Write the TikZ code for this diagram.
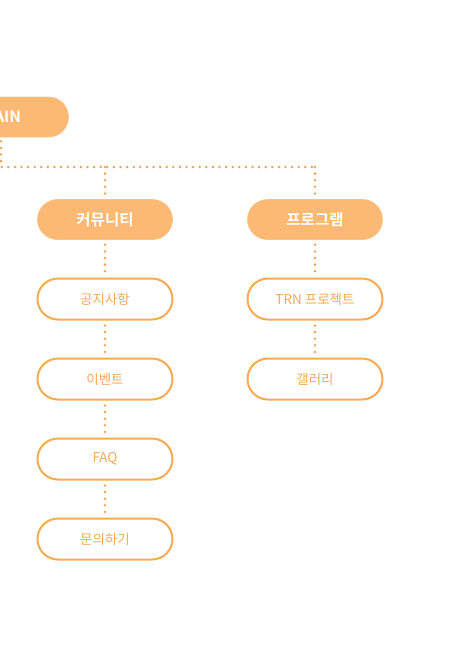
\documentclass[tikz,border=0pt]{standalone}
\usepackage{fontspec}
\setmainfont{Noto Sans CJK KR}
\newfontfamily\krbold{Noto Sans CJK KR Bold}
\definecolor{fillor}{HTML}{FCB974}
\definecolor{lineor}{HTML}{F6AA55}
\definecolor{txtor}{HTML}{F4A95C}
\definecolor{dotor}{HTML}{EFA355}
\tikzset{
  filledbox/.style={rounded rectangle, minimum width=135pt, minimum height=40pt, fill=fillor, draw=fillor!90!white, line width=0.6pt, text=white, font=\krbold\fontsize{15.5pt}{17pt}\selectfont, inner sep=0pt},
  outlinebox/.style={rounded rectangle, minimum width=135pt, minimum height=41pt, fill=white, draw=lineor, line width=2pt, text=txtor, font=\fontsize{13.5pt}{15pt}\selectfont, inner sep=0pt},
  dotline/.style={draw=dotor, line width=2.8pt, line cap=round, dash pattern=on 0pt off 6.6pt},
}
\usetikzlibrary{shapes.misc}
\begin{document}
\begin{tikzpicture}[x=1pt,y=1pt]
\useasboundingbox (0,0) rectangle (456,-646);
\node[filledbox] (main) at (1,-117) {MAIN};
\node[filledbox] (comm) at (105,-219.5) {커뮤니티};
\node[filledbox] (prog) at (315,-219.5) {프로그램};
\node[outlinebox] (notice) at (105,-299) {공지사항};
\node[outlinebox] (event) at (105,-379) {이벤트};
\node[outlinebox] (faq) at (105,-459) {FAQ};
\node[outlinebox] (inquiry) at (105,-539) {문의하기};
\node[outlinebox] (trn) at (315,-299) {TRN 프로젝트};
\node[outlinebox] (gallery) at (315,-379) {갤러리};
\coordinate (j0) at (1,-167);
\coordinate (j1) at (105,-167);
\coordinate (j2) at (315,-167);
\path[dotline] ([yshift=-4pt]main.south) -- (j0) -- (j2);
\path[dotline] (j1) -- ([yshift=5pt]comm.north);
\path[dotline] (j2) -- ([yshift=5pt]prog.north);
\path[dotline] ([yshift=-5pt]comm.south) -- ([yshift=5pt]notice.north);
\path[dotline] ([yshift=-5pt]notice.south) -- ([yshift=5pt]event.north);
\path[dotline] ([yshift=-5pt]event.south) -- ([yshift=5pt]faq.north);
\path[dotline] ([yshift=-5pt]faq.south) -- ([yshift=5pt]inquiry.north);
\path[dotline] ([yshift=-5pt]prog.south) -- ([yshift=5pt]trn.north);
\path[dotline] ([yshift=-5pt]trn.south) -- ([yshift=5pt]gallery.north);
\end{tikzpicture}
\end{document}
